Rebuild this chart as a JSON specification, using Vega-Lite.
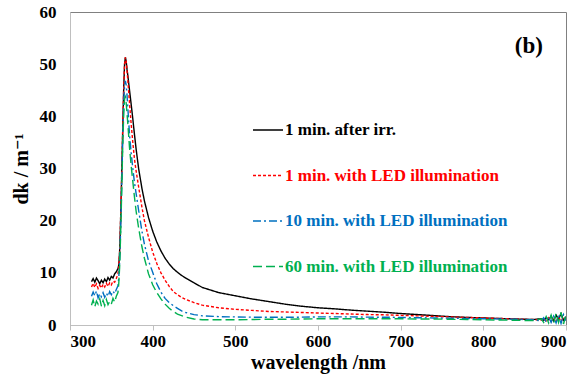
{
  "$schema": "https://vega.github.io/schema/vega-lite/v6.json",
  "autosize": "none",
  "width": 496,
  "height": 313,
  "padding": {"left": 70, "top": 12, "right": 19, "bottom": 53},
  "background": "white",
  "config": {"view": {"stroke": "#808080", "strokeWidth": 1}},
  "layer": [
    {
      "data": {"values": [
        {"w":326,"a":8.3,"b":7.3,"c":5.5,"d":3.8},
        {"w":328,"a":8.9,"b":8.0,"c":6.3,"d":4.8},
        {"w":330,"a":8.2,"b":7.2,"c":5.6,"d":3.5},
        {"w":332,"a":9.0,"b":7.9,"c":6.5,"d":4.6},
        {"w":334,"a":8.5,"b":7.0,"c":5.2,"d":4.0},
        {"w":336,"a":7.9,"b":7.6,"c":6.0,"d":5.0},
        {"w":338,"a":8.6,"b":7.1,"c":5.4,"d":3.6},
        {"w":340,"a":8.1,"b":7.8,"c":6.2,"d":4.7},
        {"w":342,"a":8.8,"b":7.3,"c":5.3,"d":3.7},
        {"w":344,"a":8.3,"b":8.0,"c":6.1,"d":4.9},
        {"w":346,"a":9.1,"b":7.4,"c":5.5,"d":3.9},
        {"w":348,"a":8.6,"b":8.1,"c":6.4,"d":4.5},
        {"w":350,"a":9.3,"b":7.7,"c":5.8,"d":4.0},
        {"w":352,"a":9.0,"b":8.4,"c":6.5,"d":5.1},
        {"w":354,"a":9.8,"b":8.2,"c":6.0,"d":4.4},
        {"w":356,"a":10.2,"b":8.9,"c":6.8,"d":5.5},
        {"w":358,"a":10.8,"b":9.8,"c":7.5,"d":6.2},
        {"w":359,"a":11.5,"b":11.2,"c":9,"d":8},
        {"w":360,"a":14,"b":13.8,"c":12,"d":11},
        {"w":361,"a":19,"b":19,"c":17,"d":16},
        {"w":362,"a":25,"b":25,"c":23,"d":22},
        {"w":363,"a":32,"b":32,"c":30,"d":29},
        {"w":364,"a":39,"b":39,"c":37,"d":35.5},
        {"w":365,"a":45.5,"b":45.5,"c":42.5,"d":40.5},
        {"w":366,"a":50,"b":50,"c":46,"d":43.3},
        {"w":367,"a":51.3,"b":51.3,"c":46.8,"d":43.7},
        {"w":368,"a":50.5,"b":50.5,"c":46,"d":42.5},
        {"w":369,"a":49,"b":48.8,"c":44,"d":40.5},
        {"w":370,"a":47.8,"b":46.8,"c":41.5,"d":38.5},
        {"w":372,"a":45,"b":42.5,"c":36.5,"d":34},
        {"w":374,"a":42.3,"b":38.5,"c":33,"d":30.5},
        {"w":376,"a":39.5,"b":35,"c":30,"d":27.5},
        {"w":378,"a":36.5,"b":31.8,"c":27.3,"d":24.5},
        {"w":380,"a":33.7,"b":29.5,"c":25.2,"d":21.8},
        {"w":383,"a":30,"b":26.5,"c":22,"d":18.6},
        {"w":387,"a":26.2,"b":22.6,"c":18,"d":15},
        {"w":390,"a":23.8,"b":20,"c":15.5,"d":12.8},
        {"w":395,"a":20.6,"b":16.8,"c":12.3,"d":9.8},
        {"w":400,"a":18,"b":14,"c":10.1,"d":7.7},
        {"w":405,"a":15.9,"b":11.8,"c":7.9,"d":6.2},
        {"w":410,"a":14.2,"b":10,"c":6.3,"d":5.0},
        {"w":415,"a":12.8,"b":8.6,"c":5.1,"d":4.0},
        {"w":420,"a":11.7,"b":7.4,"c":4.3,"d":3.2},
        {"w":425,"a":10.8,"b":6.4,"c":3.7,"d":2.6},
        {"w":430,"a":10.1,"b":5.8,"c":3.2,"d":2.1},
        {"w":435,"a":9.5,"b":5.3,"c":2.7,"d":1.8},
        {"w":440,"a":9.0,"b":4.9,"c":2.4,"d":1.5},
        {"w":450,"a":8.1,"b":4.3,"c":2.0,"d":1.15},
        {"w":460,"a":7.2,"b":3.8,"c":1.75,"d":1.0},
        {"w":480,"a":6.2,"b":3.3,"c":1.6,"d":1.0},
        {"w":500,"a":5.6,"b":3.0,"c":1.55,"d":1.0},
        {"w":520,"a":5.0,"b":2.8,"c":1.5,"d":1.05},
        {"w":540,"a":4.5,"b":2.6,"c":1.5,"d":1.1},
        {"w":560,"a":4.0,"b":2.5,"c":1.5,"d":1.1},
        {"w":580,"a":3.6,"b":2.4,"c":1.5,"d":1.15},
        {"w":600,"a":3.3,"b":2.3,"c":1.55,"d":1.2},
        {"w":620,"a":3.1,"b":2.2,"c":1.55,"d":1.2},
        {"w":640,"a":2.85,"b":2.1,"c":1.55,"d":1.2},
        {"w":660,"a":2.65,"b":2.0,"c":1.5,"d":1.2},
        {"w":680,"a":2.45,"b":1.95,"c":1.5,"d":1.2},
        {"w":700,"a":2.2,"b":1.85,"c":1.45,"d":1.2},
        {"w":720,"a":2.0,"b":1.75,"c":1.4,"d":1.15},
        {"w":740,"a":1.8,"b":1.65,"c":1.35,"d":1.15},
        {"w":760,"a":1.6,"b":1.55,"c":1.3,"d":1.1},
        {"w":780,"a":1.45,"b":1.45,"c":1.25,"d":1.05},
        {"w":800,"a":1.35,"b":1.35,"c":1.2,"d":1.0},
        {"w":820,"a":1.25,"b":1.25,"c":1.15,"d":0.95},
        {"w":840,"a":1.15,"b":1.15,"c":1.1,"d":0.9},
        {"w":860,"a":1.05,"b":1.05,"c":1.0,"d":0.85},
        {"w":870,"a":1.2,"b":0.9,"c":0.8,"d":1.2},
        {"w":873,"a":0.9,"b":1.3,"c":1.4,"d":0.5},
        {"w":876,"a":1.4,"b":0.8,"c":0.6,"d":1.6},
        {"w":879,"a":1.0,"b":1.4,"c":1.6,"d":0.4},
        {"w":882,"a":1.7,"b":0.7,"c":0.5,"d":1.9},
        {"w":885,"a":0.8,"b":1.3,"c":1.7,"d":0.3},
        {"w":888,"a":1.9,"b":0.6,"c":0.4,"d":2.2},
        {"w":891,"a":1.1,"b":1.5,"c":1.9,"d":0.5},
        {"w":894,"a":2.2,"b":0.7,"c":0.3,"d":2.4},
        {"w":897,"a":0.9,"b":1.4,"c":2.0,"d":0.2},
        {"w":900,"a":1.6,"b":1.0,"c":0.8,"d":2.0}
      ]},
      "transform": [{"fold": ["a", "b", "c", "d"], "as": ["series", "value"]}],
      "mark": {"type": "line", "strokeWidth": 1.4, "clip": true},
      "encoding": {
        "x": {
          "field": "w", "type": "quantitative",
          "scale": {"domain": [300, 900], "nice": false},
          "axis": {
            "values": [300, 400, 500, 600, 700, 800, 900],
            "grid": false,
            "domainColor": "#bfbfbf",
            "tickColor": "#bfbfbf",
            "tickSize": 5,
            "labelPadding": 3,
            "labelFont": "Liberation Serif, DejaVu Serif, serif",
            "labelFontWeight": "bold",
            "labelFontSize": 17,
            "labelColor": "#000000",
            "title": "wavelength /nm",
            "titleFont": "Liberation Serif, DejaVu Serif, serif",
            "titleFontWeight": "bold",
            "titleFontSize": 20,
            "titleColor": "#000000",
            "titlePadding": 3
          }
        },
        "y": {
          "field": "value", "type": "quantitative",
          "scale": {"domain": [0, 60], "nice": false},
          "axis": {
            "values": [0, 10, 20, 30, 40, 50, 60],
            "grid": false,
            "ticks": false,
            "domainColor": "#bfbfbf",
            "labelPadding": 14,
            "labelFont": "Liberation Serif, DejaVu Serif, serif",
            "labelFontWeight": "bold",
            "labelFontSize": 17,
            "labelColor": "#000000",
            "title": "dk / m⁻¹",
            "titleFont": "Liberation Serif, DejaVu Serif, serif",
            "titleFontWeight": "bold",
            "titleFontSize": 20,
            "titleColor": "#000000",
            "titlePadding": 8
          }
        },
        "color": {
          "field": "series", "type": "nominal",
          "scale": {"domain": ["a", "b", "c", "d"], "range": ["#000000", "#FF0000", "#0070C0", "#00B050"]},
          "legend": {
            "orient": "none",
            "legendX": 182,
            "legendY": 102,
            "title": null,
            "symbolType": "stroke",
            "symbolSize": 900,
            "symbolStrokeWidth": 1.6,
            "labelFont": "Liberation Serif, DejaVu Serif, serif",
            "labelFontWeight": "bold",
            "labelFontSize": 17,
            "labelOffset": 1,
            "labelLimit": 400,
            "rowPadding": 21.5,
            "labelExpr": "{'a':'1 min. after irr.','b':'1 min. with LED illumination','c':'10 min. with LED illumination','d':'60 min. with LED illumination'}[datum.value]",
            "encode": {"labels": {"update": {"fill": {"scale": "color", "field": "value"}}}}
          }
        },
        "strokeDash": {
          "field": "series", "type": "nominal",
          "scale": {"domain": ["a", "b", "c", "d"], "range": [[1, 0], [3, 2], [8, 3, 2, 3], [9, 4]]}
        }
      }
    },
    {
      "data": {"values": [{"label": "(b)"}]},
      "mark": {"type": "text", "font": "Liberation Serif, DejaVu Serif, serif", "fontWeight": "bold", "fontSize": 23, "color": "#000000", "align": "center", "baseline": "middle"},
      "encoding": {
        "x": {"datum": 855, "type": "quantitative"},
        "y": {"datum": 53.5, "type": "quantitative"},
        "text": {"field": "label"}
      }
    }
  ]
}
